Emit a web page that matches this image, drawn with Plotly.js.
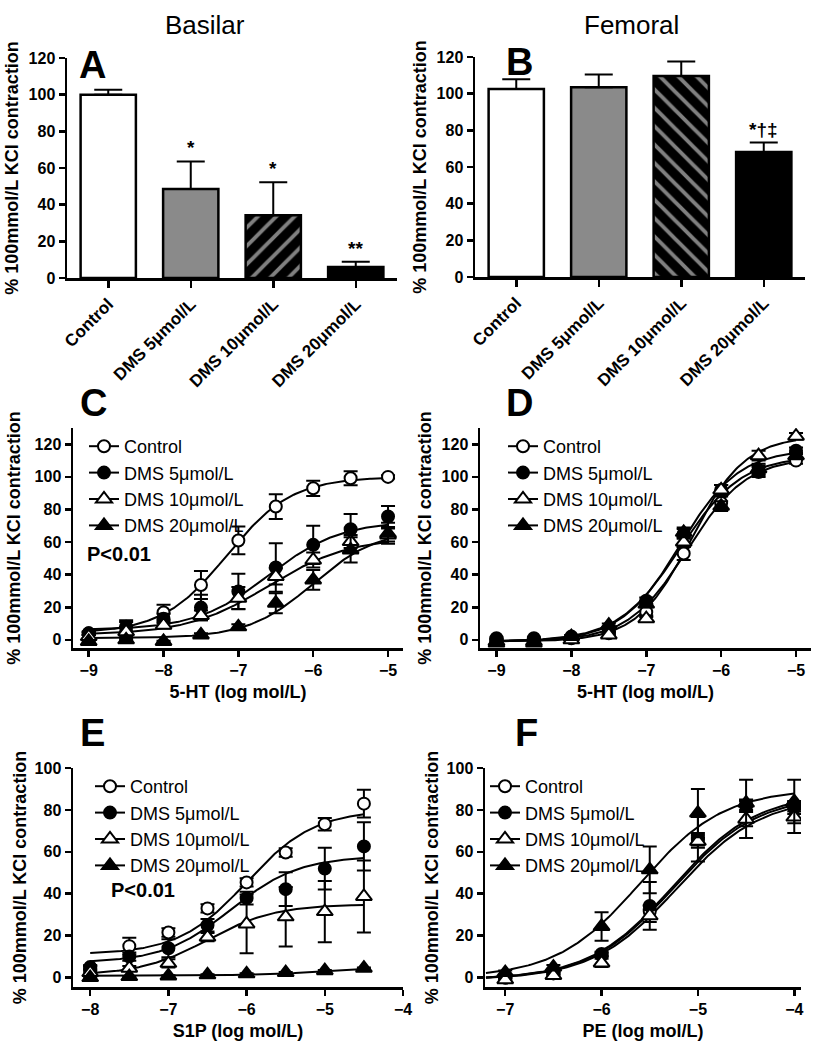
<!DOCTYPE html>
<html>
<head>
<meta charset="utf-8">
<script src="https://cdn.plot.ly/plotly-3.0.1.min.js"></script>
<style>
  html, body { margin: 0; padding: 0; background: #fff; }
  #fig { width: 827px; height: 1050px; }
</style>
</head>
<body>
<div id="fig"></div>
<script>
// *********************************************************************************************
// DATA

const SERIES = ['Control', 'DMS 5\u03bcmol/L', 'DMS 10\u03bcmol/L', 'DMS 20\u03bcmol/L'];

// bar panels (A basilar, B femoral): mean and SEM per group
const A_MEAN = [100, 48.5, 34.2, 6];
const A_SEM = [2.7, 15.1, 18, 2.9];
const A_SIG = ['', '*', '*', '**'];

const B_MEAN = [102.5, 103.5, 109.6, 68.2];
const B_SEM = [5.3, 7, 7.9, 5.1];
const B_SIG = ['', '', '', '*\u2020\u2021'];

// C: basilar, 5-HT
const C_X = [-9, -8.5, -8, -7.5, -7, -6.5, -6, -5.5, -5];
const C_MEAN = [
    [4, 5, 16.8, 33.7, 61, 81.8, 93, 99.2, 100],
    [4, 8, 13, 19.8, 29.7, 44.4, 58.3, 67.9, 75.7],
    [2, 5, 9, 15, 25.6, 38.9, 49, 60.3, 64.4],
    [-1, 0, -1, 3, 8, 22.5, 36.8, 55.2, 65.4]
];
const C_SEM = [
    [1, 6, 4.7, 8.6, 8.5, 7.6, 4.7, 4.3, 1],
    [1, 4, 3, 7.8, 10.8, 14.9, 11.7, 9.4, 6.5],
    [1, 3, 2, 3, 6.8, 5, 4.6, 4, 4],
    [0.5, 0.5, 0.5, 1, 1.5, 6.1, 6.1, 7.8, 6.5]
];
// fitted curves: bottom, top, logEC50, hill slope
const C_BOTTOM = [4, 6, 3, 1];
const C_TOP = [100, 73, 63, 68];
const C_EC50 = [-7.15, -6.6, -6.6, -6.0];
const C_HILL = [1, 0.9, 0.8, 1];

// D: femoral, 5-HT
const D_X = [-9, -8.5, -8, -7.5, -7, -6.5, -6, -5.5, -5];
const D_MEAN = [
    [0, 0, 1, 4, 17, 53, 84, 104, 110],
    [1, 1, 2, 6, 24, 65, 92, 103, 116],
    [-1, -1, 0, 3, 13, 60, 92, 113, 125],
    [-2, -2, 2, 9, 22, 66, 82, 105, 113]
];
const D_SEM = [
    [0.5, 0.5, 1, 1, 3, 4, 4, 3, 2],
    [0.5, 0.5, 1, 1, 2, 3, 3, 3, 2],
    [0.5, 0.5, 1, 1, 2, 3, 3, 3, 2],
    [0.5, 0.5, 1, 1, 2, 3, 3, 3, 2]
];
const D_BOTTOM = [-1, -1, -1, -1];
const D_TOP = [112, 117, 125, 113];
const D_EC50 = [-6.45, -6.55, -6.4, -6.55];
const D_HILL = [1.1, 1.1, 1.2, 1.05];

// E: basilar, S1P
const E_X = [-8, -7.5, -7, -6.5, -6, -5.5, -5, -4.5];
const E_MEAN = [
    [4.5, 15, 21.5, 33, 45.4, 59.7, 73.2, 83],
    [5, 10, 14, 25, 37.9, 42.2, 52, 62.6],
    [2.4, 4.5, 6.8, 19.3, 25.6, 29, 31.5, 38.7],
    [0, 0.5, 0.8, 1.3, 1.8, 2.4, 3.3, 4.5]
];
const E_SEM = [
    [1, 4, 2, 2, 2, 2, 3, 6.6],
    [1, 2, 4.3, 3, 3, 8, 10, 11.5],
    [0.5, 1, 2, 2, 14, 14.2, 14.6, 17.2],
    [0.3, 0.3, 0.3, 0.3, 0.3, 0.3, 0.3, 0.3]
];
const E_BOTTOM = [11, 7, 1, 0.8];
const E_TOP = [80, 58, 35, 6];
const E_EC50 = [-6.0, -6.2, -6.5, -4.8];
const E_HILL = [1, 1, 1, 0.8];

// F: femoral, PE
const F_X = [-7, -6.5, -6, -5.5, -5, -4.5, -4];
const F_MEAN = [
    [0, 2, 10.8, 31.5, 66, 82, 81],
    [0, 3, 11.3, 34.2, 66, 82, 81.2],
    [-1, 1, 7, 29.5, 65, 75.6, 76.6],
    [2.4, 5, 24.4, 51.4, 78.5, 83.3, 84]
];
const F_SEM = [
    [0.5, 0.5, 1, 3, 3, 3, 3],
    [0.5, 0.5, 1, 11.4, 10.6, 2, 2],
    [0.5, 0.5, 2, 3, 3, 9, 7.6],
    [1, 1, 6.8, 11.2, 11.5, 11.1, 10.4]
];
const F_BOTTOM = [-1, -1, -1, 0];
const F_TOP = [87, 88, 86, 90];
const F_EC50 = [-5.25, -5.26, -5.22, -5.6];
const F_HILL = [1, 1, 1, 1];


// *********************************************************************************************
// STYLE

const W = 827, H = 1050;
const FONT = 'Arial, "Liberation Sans", sans-serif';
const SYMBOLS = ['circle', 'circle', 'triangle-up', 'triangle-up'];
const FILLS = ['white', 'black', 'white', 'black'];
const MSIZE = [12, 12, 14, 14];

// pixel box -> paper domain
const dx = (l, r) => [l / W, r / W];
const dy = (t, b) => [1 - b / H, 1 - t / H];

const fourPL = (x, b, t, ec, h) => b + (t - b) / (1 + Math.pow(10, (ec - x) * h));

const boldTick = { family: FONT, size: 16, color: 'black', weight: 700 };
const boldTitle = { family: FONT, size: 18, color: 'black', weight: 700 };

const axisBase = {
    showline: true, linewidth: 2.5, linecolor: 'black',
    ticks: 'outside', ticklen: 6, tickwidth: 2.5, tickcolor: 'black',
    showgrid: false, zeroline: false, tickfont: boldTick,
    fixedrange: true
};

let data = [];
let annotations = [];


// *********************************************************************************************
// BAR PANELS

const barPanel = (xa, ya, mean, sem, sig, hatch) => {
    data.push({
        type: 'bar',
        x: SERIES,
        y: mean,
        xaxis: xa, yaxis: ya,
        showlegend: false,
        marker: {
            color: ['white', '#8a8a8a', 'black', 'black'],
            line: { color: 'black', width: 2.5 },
            pattern: {
                shape: ['', '', hatch, ''],
                fillmode: 'overlay',
                fgcolor: 'white',
                size: 13,
                solidity: 0.3
            }
        },
        error_y: {
            type: 'data', symmetric: false,
            array: sem, arrayminus: sem.map(() => 0),
            color: 'black', thickness: 2, width: 14
        }
    });
    sig.forEach((s, i) => {
        if (!s) return;
        annotations.push({
            x: SERIES[i], y: mean[i] + sem[i],
            xref: xa, yref: ya,
            text: s, showarrow: false,
            yanchor: 'bottom', yshift: 1,
            font: { family: FONT, size: 19, color: 'black', weight: 700 }
        });
    });
};

barPanel('x', 'y', A_MEAN, A_SEM, A_SIG, '/');
barPanel('x2', 'y2', B_MEAN, B_SEM, B_SIG, '\\');


// *********************************************************************************************
// CONCENTRATION-RESPONSE PANELS

const curvePanel = (xa, ya, legendId, X, MEAN, SEM, BOT, TOP, EC, HILL, lo, hi) => {
    // fitted curves first so the symbols sit on top
    for (let s = 0; s < SERIES.length; s++) {
        const cx = [], cy = [];
        for (let x = lo; x <= hi + 1e-9; x += 0.02) {
            cx.push(x);
            cy.push(fourPL(x, BOT[s], TOP[s], EC[s], HILL[s]));
        }
        data.push({
            type: 'scatter', mode: 'lines', x: cx, y: cy,
            xaxis: xa, yaxis: ya, showlegend: false, hoverinfo: 'skip',
            line: { color: 'black', width: 2 }
        });
    }
    for (let s = 0; s < SERIES.length; s++) {
        data.push({
            type: 'scatter', mode: 'markers', x: X, y: MEAN[s],
            xaxis: xa, yaxis: ya, showlegend: false,
            marker: {
                symbol: SYMBOLS[s], size: MSIZE[s], color: FILLS[s],
                line: { color: 'black', width: 2 }
            },
            error_y: {
                type: 'data', array: SEM[s],
                color: 'black', thickness: 2, width: 7
            }
        });
    }
    // legend-only entries (symbol with line segment, like the original key)
    for (let s = 0; s < SERIES.length; s++) {
        data.push({
            type: 'scatter', mode: 'lines+markers', x: [null], y: [null],
            xaxis: xa, yaxis: ya, name: SERIES[s], legend: legendId,
            line: { color: 'black', width: 2 },
            marker: {
                symbol: SYMBOLS[s], size: MSIZE[s], color: FILLS[s],
                line: { color: 'black', width: 2 }
            }
        });
    }
};

curvePanel('x3', 'y3', 'legend', C_X, C_MEAN, C_SEM, C_BOTTOM, C_TOP, C_EC50, C_HILL, -9, -5);
curvePanel('x4', 'y4', 'legend2', D_X, D_MEAN, D_SEM, D_BOTTOM, D_TOP, D_EC50, D_HILL, -9, -5);
curvePanel('x5', 'y5', 'legend3', E_X, E_MEAN, E_SEM, E_BOTTOM, E_TOP, E_EC50, E_HILL, -8, -4.5);
curvePanel('x6', 'y6', 'legend4', F_X, F_MEAN, F_SEM, F_BOTTOM, F_TOP, F_EC50, F_HILL, -7.2, -4);


// *********************************************************************************************
// TEXT

const addText = (text, xpx, ypx, size, weight) => {
    annotations.push({
        text: text, xref: 'paper', yref: 'paper',
        x: xpx / W, y: 1 - ypx / H,
        xanchor: 'center', yanchor: 'middle', showarrow: false,
        font: { family: FONT, size: size, color: 'black', weight: weight }
    });
};

addText('Basilar', 205, 25, 26, 400);
addText('Femoral', 631, 25, 26, 400);
addText('A', 92, 65, 38, 700);
addText('B', 519, 62, 38, 700);
addText('C', 93, 403, 38, 700);
addText('D', 519, 403, 38, 700);
addText('E', 92, 733, 38, 700);
addText('F', 526, 733, 38, 700);
addText('P<0.01', 119, 554, 20, 700);
addText('P<0.01', 143, 890, 20, 700);


// *********************************************************************************************
// LAYOUT

const yTitle = (standoff) => ({
    text: '% 100mmol/L KCl contraction', font: boldTitle, standoff: standoff
});
const xTitle = (t) => ({ text: t, font: boldTitle, standoff: 8 });

const legendBase = (lpx, tpx) => ({
    x: lpx / W, y: 1 - tpx / H, xanchor: 'left', yanchor: 'top',
    bgcolor: 'rgba(0,0,0,0)', borderwidth: 0, itemwidth: 30,
    font: { family: FONT, size: 18, color: 'black' },
    tracegroupgap: 0
});

let layout = {
    width: W, height: H,
    margin: { t: 0, r: 0, b: 0, l: 0 },
    paper_bgcolor: 'white', plot_bgcolor: 'rgba(0,0,0,0)',
    font: { family: FONT, color: 'black' },
    bargap: 0.33,
    showlegend: true,

    xaxis: Object.assign({}, axisBase, {
        domain: dx(67, 397), anchor: 'y', type: 'category',
        range: [-0.5, 3.5], tickangle: -45, ticklen: 7,
        tickfont: Object.assign({}, boldTick, { size: 17 })
    }),
    yaxis: Object.assign({}, axisBase, {
        domain: dy(58, 278), anchor: 'x', range: [0, 120], dtick: 20,
        title: yTitle(6)
    }),
    xaxis2: Object.assign({}, axisBase, {
        domain: dx(475, 805), anchor: 'y2', type: 'category',
        range: [-0.5, 3.5], tickangle: -45, ticklen: 7,
        tickfont: Object.assign({}, boldTick, { size: 17 })
    }),
    yaxis2: Object.assign({}, axisBase, {
        domain: dy(57, 277), anchor: 'x2', range: [0, 120], dtick: 20,
        title: yTitle(6)
    }),

    xaxis3: Object.assign({}, axisBase, {
        domain: dx(73, 403), anchor: 'y3', range: [-9.21, -4.8],
        tickvals: [-9, -8, -7, -6, -5], title: xTitle('5-HT (log mol/L)')
    }),
    yaxis3: Object.assign({}, axisBase, {
        domain: dy(428, 648), anchor: 'x3', range: [-5, 130],
        tickvals: [0, 20, 40, 60, 80, 100, 120], title: yTitle(10)
    }),
    xaxis4: Object.assign({}, axisBase, {
        domain: dx(480, 811), anchor: 'y4', range: [-9.22, -4.8],
        tickvals: [-9, -8, -7, -6, -5], title: xTitle('5-HT (log mol/L)')
    }),
    yaxis4: Object.assign({}, axisBase, {
        domain: dy(428, 648), anchor: 'x4', range: [-5, 130],
        tickvals: [0, 20, 40, 60, 80, 100, 120], title: yTitle(6)
    }),

    xaxis5: Object.assign({}, axisBase, {
        domain: dx(73, 403), anchor: 'y5', range: [-8.22, -4],
        tickvals: [-8, -7, -6, -5, -4], title: xTitle('S1P (log mol/L)')
    }),
    yaxis5: Object.assign({}, axisBase, {
        domain: dy(768, 987), anchor: 'x5', range: [-4.5, 100],
        tickvals: [0, 20, 40, 60, 80, 100], title: yTitle(4)
    }),
    xaxis6: Object.assign({}, axisBase, {
        domain: dx(485, 801), anchor: 'y6', range: [-7.21, -3.93],
        tickvals: [-7, -6, -5, -4], title: xTitle('PE (log mol/L)')
    }),
    yaxis6: Object.assign({}, axisBase, {
        domain: dy(768, 987), anchor: 'x6', range: [-4.5, 100],
        tickvals: [0, 20, 40, 60, 80, 100], title: yTitle(4)
    }),

    legend: legendBase(84, 428),
    legend2: legendBase(503, 428),
    legend3: legendBase(90, 768),
    legend4: legendBase(485, 768),

    annotations: annotations
};


// *********************************************************************************************
// CONFIG / CREATE

const config = { displaylogo: false, displayModeBar: false, staticPlot: true };

Plotly.newPlot('fig', data, layout, config);
</script>
</body>
</html>
